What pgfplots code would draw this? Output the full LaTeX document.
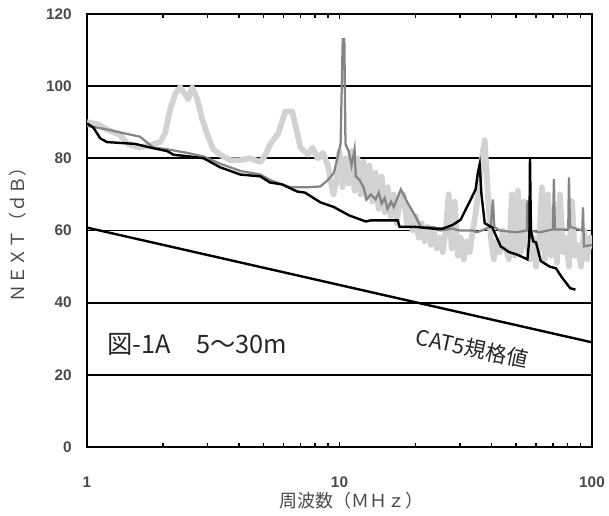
\documentclass[border=0pt]{standalone}
\usepackage{fontspec}
\setmainfont{Liberation Sans}
\newfontfamily\jp{Noto Sans CJK JP}
\usepackage{pgfplots}
\pgfplotsset{compat=1.18}
\definecolor{lg}{HTML}{D2D2D2}
\definecolor{dg}{HTML}{858585}
\definecolor{tk}{HTML}{4A4A4A}
\begin{document}
\begin{tikzpicture}
\useasboundingbox (-65.25pt,-51.75pt) rectangle (391.5pt,335.25pt);
\begin{axis}[
  at={(0,0)}, anchor=south west,
  scale only axis, width=378.75pt, height=324.75pt,
  xmode=log, xmin=1, xmax=100, ymin=0, ymax=120,
  xtick={1,10,100}, xticklabels={1,10,100}, minor xtick={},
  ytick={0,20,...,120},
  extra y ticks={20,40,60,80,100}, extra y tick labels={},
  extra y tick style={grid=major, major tick length=0pt},
  grid style={black, line width=1.4pt},
  axis line style={black, line width=1.1pt},
  tick style={black, line width=1pt},
  major tick length=4pt,
  tick align=inside,
  /pgf/number format/assume math mode=true,
  tick label style={font=\bfseries\fontsize{11.5}{11.5}\selectfont, text=tk},
  xticklabel style={yshift=-19pt},
  yticklabel style={xshift=-8pt},
  xlabel={\jp 周波数（ＭＨｚ）},
  ylabel={\jp ＮＥＸＴ（ｄＢ）},
  label style={font=\jp\fontsize{13.5}{13.5}\selectfont, text=tk},
  xlabel style={at={(axis description cs:0.523,-0.125)}, anchor=center},
  ylabel style={at={(axis description cs:-0.1366,0.5)}, anchor=center},
]
% light gray thick series
\addplot[lg, line width=4.3pt, line join=round] coordinates {
(1,90)(1.1,89.5)(1.2,88)(1.35,86.5)(1.45,84)(1.6,83)(1.75,83.5)(1.95,84.5)(2.04,87)
(2.135,93.6)(2.235,97.8)(2.339,99.7)(2.448,97.8)(2.516,96.4)(2.61,99.7)(2.733,96.4)
(2.86,90.8)(2.994,86.7)(3.162,82.5)(3.37,81)(3.69,79.5)(4.05,79.5)(4.43,80)(4.86,79)
(5.1,81)(5.32,84)(5.73,87)(6.1,93)(6.5,93)(6.8,87)(7.0,83)(7.5,81)(7.8,83)(8.2,80)
(8.6,81.5)(9.0,78)(9.211,74)(9.467,70)(9.73,74)(10.0,82)(10.28,72)(10.56,80)(10.86,73)
(11.16,82)(11.47,71)(11.79,80)(12.12,70)(12.45,79)(12.8,69)(13.15,78)(13.52,68)
(13.9,76)(14.28,66)(14.68,75)(15.09,65)(15.51,72)(15.94,64)(16.38,70)(16.84,62)
(17.31,68)(17.95,70)(18.45,62)(18.96,66)(19.49,60)(20.03,64)(20.58,58)(21.15,62)
(21.74,57)(22.35,61)(22.97,56)(23.6,60)(24.26,55)(24.93,58)(25.62,54)(26.34,60)
(27.07,70)(27.82,55)(28.59,68)(29.4,53)(30.22,58)(31.05,52)(31.92,57)(32.8,54)
(33.71,60)(34.65,65)(35.61,72)(36.6,80)(37.61,85)(38.66,70)(39.73,58)(40.84,52)
(41.98,57)(43.14,54)(44.35,60)(45.58,55)(46.84,52)(48.14,70)(49.48,53)(50.85,71)
(52.27,54)(53.73,68)(55.22,56)(56.75,52)(58.33,58)(59.95,50)(61.61,56)(63.33,72)
(65.09,52)(66.9,70)(68.76,53)(70.66,66)(72.62,51)(74.64,70)(76.72,54)(78.86,58)
(81.05,50)(83.3,68)(85.61,53)(87.99,56)(90.43,50)(92.97,60)(95.55,52)(98.2,58)(100,55)
};
% dark gray series
\addplot[dg, line width=1.7pt] coordinates {
(1,89)(1.2,88)(1.39,87)(1.62,86)(1.83,83)(2.08,82.5)(2.5,81.5)(2.9,80.5)(3.37,78.5)
(4.05,76.5)(4.86,75.5)(5.3,74)(6.39,72)(7.5,72)(8.4,72.2)(9.0,74)(9.5,76)(9.8,80)
(10.1,84)(10.3,113)(10.45,113)(10.56,84)(10.86,82)(11.16,78)(11.47,82.5)(11.6,75)
(12.0,74)(12.45,72)(12.8,68.6)(13.3,70)(13.9,68.6)(14.3,70.5)(14.7,67.5)(15.1,69)
(15.5,66)(16.0,68)(16.4,66.5)(17.5,71.4)(18.5,68)(20.0,63.9)(21,61)(23.6,61)(25,60)
(28,60.5)(30,60)(33.7,60)(35,59.5)(39.7,61)(40.5,68.6)(41,61)(43,60)(50,59.5)(55.2,60)
(55.5,68)(56.2,68)(56.5,60)(62,59.5)(70,60.3)(70.66,74.2)(71.3,60.3)(80.5,60.3)
(81.05,74.7)(81.8,61)(91.5,60)(92.11,66.4)(92.9,55.6)(100,56)
};
% black series
\addplot[black, line width=1.8pt] coordinates {
(1,89.7)(1.06,88.5)(1.13,85.5)(1.2,84.5)(1.4,84.2)(1.55,84)(1.83,82.8)(2.08,82)
(2.2,81)(2.56,80.5)(2.9,80)(3.37,77.5)(4.05,75.5)(4.86,75)(5.3,73.3)(5.9,72.8)
(6.8,70.8)(7.3,70.5)(8.4,67.8)(9.5,66.5)(10.9,64.2)(12.7,62.5)(13.3,62.8)(17.0,62.8)
(17.3,61)(20,61)(23.6,60.5)(25.6,60.5)(28,61.5)(30.2,63)(31.6,65.8)(33.1,68.6)
(34.6,71.4)(35.3,76)(35.9,78.3)(36.5,70)(37.6,62)(40.3,60.8)(43.5,55.6)(47,54)
(50.6,53.3)(55.5,52)(56.5,58)(56.8,80.3)(57.3,60)(58.5,57)(60,56.7)(62.7,51.5)(68,50)
(72,49.5)(76,47)(82,44)(86,43.6)
};
% CAT5 spec line
\addplot[black, line width=1.8pt] coordinates {(1,60.8)(100,29)};
\node[font=\jp\fontsize{19}{19}\selectfont, anchor=west, inner sep=0pt, text=black!85] at (axis cs:1.2,28.4) {図-1A　5～30m};
\node[font=\jp\fontsize{16}{16}\selectfont, rotate=-12, inner sep=0pt, text=black!85] at (axis cs:33.5,27.3) {CAT5規格値};
\end{axis}
\end{tikzpicture}
\end{document}
